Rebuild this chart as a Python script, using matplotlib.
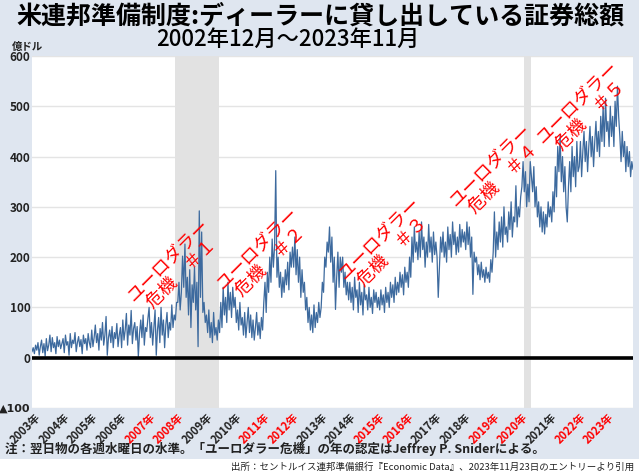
import numpy as np
import pandas as pd
import matplotlib
matplotlib.use('Agg')
import matplotlib.pyplot as plt
import matplotlib.dates as mdates
from matplotlib.patches import Rectangle

plt.rcParams['font.family'] = ['Noto Sans CJK JP', 'DejaVu Sans']

# semi-monthly readings, Dec 2002 - Nov 2023 (億ドル)
values = [
    12, 20,
    8, 25, 15, 30, 5, 22, 35, 10, 28, 3, 38, 14, 25, 45, 12, 40, 20, 30, 8, 42, 22, 35, 18, 28,
    38, 10, 45, 25, 32, 5, 48, 20, 35, 28, 50, 12, 30, 42, 22, 36, 8, 45, 28, 38, 15, 48, 30, 20,
    55, 22, 40, 65, 30, 48, 15, 58, 35, 70, 25, 45, 82, 5, 40, 55, 30, 62, 20, 50, 38, 68, 22, 45,
    60, 20, 75, 35, 55, 88, 25, 65, 45, 94, 28, 58, 70, 35, 62, 2, 48, 75, 40, 85, 25, 60, 52, 78,
    100, 40, 70, 25, 60, 95, 5, 55, 80, 30, 100, 45, 75, 20, 65, 90, 40, 70, 55, 105, 60, 85, 75, 110,
    110, 150, 95, 130, 202, 140, 226, 120, 160, 85, 175, 60, 145, 110, 180, 95, 150, 22, 292, 120, 250, 90, 110, 70,
    85, 50, 95, 40, 70, 30, 90, 45, 60, 35, 75, 50, 110, 60, 140, 85, 120, 70, 150, 95, 130, 80, 140, 100,
    120, 70, 95, 55, 110, 65, 80, 45, 90, 40, 70, 100, 50, 85, 40, 75, 35, 60, 90, 45, 70, 38, 80, 55,
    110, 150, 90, 170, 130, 200, 150, 236, 180, 220, 372, 160, 200, 140, 170, 120, 160, 130, 175, 145, 190, 135, 210, 180,
    220, 180, 240, 165, 215, 150, 200, 120, 175, 130, 150, 95, 120, 70, 100, 55, 85, 50, 105, 60, 90, 70, 110, 80,
    100, 150, 130, 200, 180, 230, 210, 260, 190, 240, 150, 200, 96, 160, 210, 140, 200, 170, 200, 140, 170, 125, 150, 115,
    150, 110, 140, 95, 160, 120, 135, 90, 150, 105, 130, 85, 145, 115, 125, 95, 140, 100, 120, 88, 135, 110, 130, 100,
    120, 95, 135, 105, 125, 90, 140, 110, 130, 100, 150, 120, 145, 110, 160, 125, 150, 130, 170, 140, 165, 125, 180, 150,
    170, 140, 200, 160, 240, 190, 260, 210, 230, 195, 250, 200, 270, 215, 240, 180, 230, 200, 265, 210, 240, 190, 250, 205,
    230, 200, 120, 180, 240, 210, 250, 200, 230, 190, 260, 215, 245, 200, 270, 225, 250, 205, 240, 210, 265, 220, 255, 230,
    250, 215, 270, 225, 260, 200, 240, 126, 210, 190, 200, 165, 185, 155, 190, 160, 175, 150, 180, 158, 170, 150, 195, 170,
    210, 290, 200, 250, 215, 270, 230, 280, 220, 300, 245, 260, 230, 290, 255, 310, 240, 280, 270, 342, 260, 300, 280, 320,
    340, 390, 330, 370, 300, 345, 310, 390, 360, 330, 380, 300, 340, 280, 310, 260, 300, 250, 290, 246, 285, 260, 310, 280,
    300, 270, 330, 290, 380, 320, 420, 370, 442, 350, 400, 330, 380, 300, 270, 340, 390, 330, 420, 360, 400, 340, 430, 370,
    380, 430, 360, 410, 450, 390, 430, 370, 420, 460, 400, 440, 380, 430, 470, 410, 450, 400, 480, 430, 500, 420, 516, 450,
    470, 420, 500, 440, 480, 420, 510, 460, 540, 480, 440, 390, 450, 400, 430, 370, 420, 380, 410, 360, 390, 375,
]
dates = pd.date_range('2002-12-04', '2023-11-22', periods=len(values))

years = list(range(2003, 2024))
red_years = [2007, 2008, 2011, 2012, 2015, 2016, 2019, 2020, 2022, 2023]
recessions = [('2007-12-01', '2009-06-15'), ('2020-02-01', '2020-04-30')]

crisis_labels = ['ユーロダラー\n危機　＃１', 'ユーロダラー\n危機　＃２', 'ユーロダラー\n危機　＃３',
                 'ユーロダラー\n危機　＃４', 'ユーロダラー\n危機　＃５']
crisis_px = [(175, 267), (264, 255), (386, 245), (497, 172), (584, 109)]

y_ticks = [-100, 0, 100, 200, 300, 400, 500, 600]
y_labels = ['▲100', '0', '100', '200', '300', '400', '500', '600']

W, H = 639, 476
fig = plt.figure(figsize=(W / 100, H / 100), dpi=100, facecolor='#dfe6f0')
fig.patches.append(Rectangle((0, 0), 1, 17 / H, transform=fig.transFigure,
                             facecolor='white', edgecolor='none', zorder=0))
ax = fig.add_axes([32 / W, 1 - 408 / H, 601 / W, 352 / H])
ax.set_facecolor('white')

for a, b in recessions:
    ax.axvspan(pd.Timestamp(a), pd.Timestamp(b), color='#e2e2e2', lw=0, zorder=1)

ax.plot(dates, values, color='#3d6a9e', lw=0.9, zorder=3)
ax.axhline(0, color='black', lw=2.6, zorder=4)

ax.set_ylim(-100, 600)
ax.set_xlim(dates[0], dates[-1])
ax.set_yticks(y_ticks)
ax.set_yticklabels(y_labels, fontsize=8.5, fontweight='bold', color='#222222')
ax.get_yticklabels()[0].set_family(['DejaVu Sans'])
ax.get_yticklabels()[0].set_fontsize(8)
ax.grid(axis='y', color='#e4e4e4', lw=1, zorder=0)
ax.set_axisbelow(True)

ax.set_xticks([pd.Timestamp(f'{y}-01-01') for y in years])
ax.set_xticklabels([f'{y}年' for y in years], rotation=45, ha='right', va='top',
                   rotation_mode='anchor', fontsize=8, fontweight='bold')
for lbl, y in zip(ax.get_xticklabels(), years):
    lbl.set_color('red' if y in red_years else '#222222')
ax.tick_params(axis='x', length=0, pad=2)
ax.tick_params(axis='y', length=0, pad=1)
for s in ax.spines.values():
    s.set_visible(False)

for txt, (px, py) in zip(crisis_labels, crisis_px):
    fig.text(px / W, 1 - py / H, txt, color='red', fontsize=13, rotation=45,
             ha='center', va='center', rotation_mode='anchor',
             multialignment='center', linespacing=1.05, zorder=5)

fig.text(320 / W, 1 - 16 / H, '米連邦準備制度:ディーラーに貸し出している証券総額',
         ha='center', va='center', fontsize=18, fontweight='bold', color='black')
fig.text(288 / W, 1 - 39 / H, '2002年12月～2023年11月',
         ha='center', va='center', fontsize=16, fontweight='medium', color='black')
fig.text(27 / W, 1 - 47 / H, '億ドル', ha='center', va='center', fontsize=7.5,
         fontweight='bold', color='#222222')
fig.text(5 / W, 1 - 449 / H,
         '注：翌日物の各週水曜日の水準。「ユーロダラー危機」の年の認定はJeffrey P. Sniderによる。',
         ha='left', va='center', fontsize=9, fontweight='bold', color='#222222')
fig.text(634 / W, 1 - 467 / H,
         '出所：セントルイス連邦準備銀行『Economic Data』、2023年11月23日のエントリーより引用',
         ha='right', va='center', fontsize=6.8, color='#222222')

fig.savefig('out.png', dpi=100, facecolor=fig.get_facecolor())
